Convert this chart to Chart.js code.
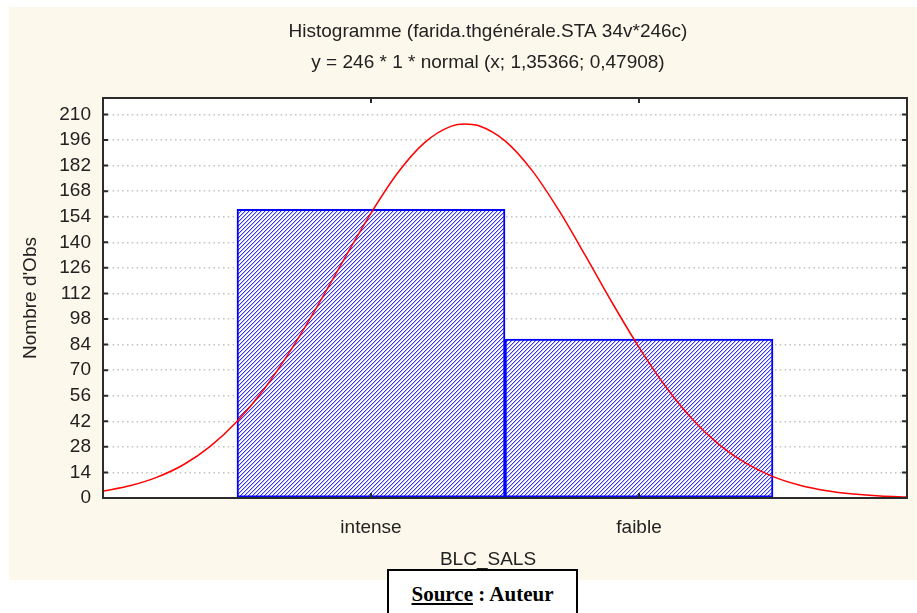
<!DOCTYPE html>
<html>
<head>
<meta charset="utf-8">
<script src="https://cdn.jsdelivr.net/npm/chart.js@4.4.1/dist/chart.umd.min.js"></script>
<style>
body{margin:0;background:#fff;}
#wrap{position:relative;width:917px;height:613px;overflow:hidden;}
#source{position:absolute;left:387px;top:569px;width:191px;height:70px;border:2px solid #000;background:#fff;
  font:bold 21px "Liberation Serif","Times New Roman",serif;line-height:24px;text-align:center;padding-top:11px;box-sizing:border-box;color:#000}
</style>
</head>
<body>
<div id="wrap">
  <canvas id="myChart" width="917" height="613"></canvas>
  <div id="source"><u>Source</u> : Auteur</div>
</div>
<script>
// histogramme BLC_SALS
const categories = ['intense', 'faible']
const counts = [158, 87]   // nombre d'obs par classe
const yStep = 14
const yMax = 219
// courbe normale (x = rang de la classe)
const curveX = [0, 0.1, 0.2, 0.3, 0.4, 0.5, 0.6, 0.7, 0.8, 0.9, 1.0, 1.1, 1.2, 1.3, 1.35, 1.4, 1.5, 1.6, 1.7, 1.8, 1.9, 2.0, 2.1, 2.2, 2.3, 2.4, 2.5, 2.6, 2.7, 2.8, 2.9, 3.0]
const curveY = [3.8, 6.7, 11.3, 18.2, 28.3, 41.9, 59.4, 80.8, 105.1, 130.8, 156.0, 178.1, 194.6, 203.6, 204.8, 203.9, 195.5, 179.5, 157.7, 132.7, 106.9, 82.5, 60.9, 43.0, 29.1, 18.9, 11.7, 7.0, 4.0, 2.2, 1.1, 0.6]

const txt = '#222'
Chart.defaults.font.family = '"Liberation Sans", Arial, sans-serif'
Chart.defaults.font.size = 19
Chart.defaults.color = txt

function hatch(){
    const c = document.createElement('canvas')
    c.width = 4; c.height = 4
    const g = c.getContext('2d')
    g.fillStyle = '#fff'
    g.fillRect(0, 0, 4, 4)
    for(let x = 0; x < 4; x++){
        for(let y = 0; y < 4; y++){
            const k = (x + y) % 4
            if(k === 3){ g.fillStyle = '#3535ff'; g.fillRect(x, y, 1, 1) }
            else if(k === 0){ g.fillStyle = '#bdbdff'; g.fillRect(x, y, 1, 1) }
        }
    }
    return g.createPattern(c, 'repeat')
}

// fond crème + cadre avec petites graduations vers l'intérieur
const frame = {
    id: 'frame',
    beforeDraw(chart){
        const {ctx, chartArea: a} = chart
        ctx.save()
        ctx.fillStyle = '#fdf8ec'
        ctx.fillRect(9, 7, 908, 573)
        ctx.fillStyle = '#fff'
        ctx.fillRect(a.left, a.top, a.right - a.left, a.bottom - a.top)
        ctx.restore()
    },
    afterDraw(chart){
        const {ctx, chartArea: a, scales} = chart
        ctx.save()
        ctx.strokeStyle = '#2b2b2b'
        ctx.lineWidth = 2
        ctx.strokeRect(a.left, a.top, a.right - a.left, a.bottom - a.top)
        ctx.beginPath()
        scales.y.ticks.forEach(t => {
            const py = scales.y.getPixelForValue(t.value)
            ctx.moveTo(a.left, py); ctx.lineTo(a.left + 5, py)
            ctx.moveTo(a.right, py); ctx.lineTo(a.right - 5, py)
        })
        scales.x.ticks.forEach(t => {
            const px = scales.x.getPixelForValue(t.value)
            ctx.moveTo(px, a.top); ctx.lineTo(px, a.top + 5)
            ctx.moveTo(px, a.bottom); ctx.lineTo(px, a.bottom - 5)
        })
        ctx.stroke()
        ctx.restore()
    }
}

const ctx = document.getElementById('myChart')

new Chart(ctx, {
    type: 'line',
    data: {
        datasets: [{
            type: 'line',
            label: 'normal',
            data: curveX.map((x, i) => ({x, y: curveY[i]})),
            borderColor: '#ff0000',
            borderWidth: 1.5,
            pointRadius: 0,
            cubicInterpolationMode: 'monotone',
            order: 0
        }, {
            type: 'bar',
            label: 'BLC_SALS',
            data: categories.map((c, i) => ({x: i + 1, y: counts[i]})),
            backgroundColor: hatch(),
            borderColor: '#0000ff',
            borderWidth: 2,
            borderSkipped: false,
            categoryPercentage: 1,
            barPercentage: 1,
            order: 1
        }]
    },
    options: {
        responsive: false,
        animation: false,
        events: [],
        layout: {
            padding: {left: 0, right: -59, top: 0, bottom: 41.6}
        },
        scales: {
            x: {
                type: 'linear',
                min: 0,
                max: 3,
                offset: false,
                afterBuildTicks: s => { s.ticks = categories.map((c, i) => ({value: i + 1})) },
                afterFit: s => { s.height = 40 },
                grid: {display: false},
                border: {display: false},
                ticks: {
                    padding: 10,
                    autoSkip: false,
                    maxRotation: 0,
                    callback: v => categories[v - 1]
                }
            },
            y: {
                min: 0,
                max: yMax,
                afterFit: s => { s.width = 103 },
                grid: {color: '#c2c2c2', lineWidth: 1.5, drawTicks: false},
                border: {display: false, dash: [1.5, 3.3]},
                ticks: {
                    stepSize: yStep,
                    includeBounds: false,
                    autoSkip: false,
                    padding: 12
                },
                title: {
                    display: true,
                    text: "Nombre d'Obs",
                    font: {size: 19},
                    padding: {top: 19.6, bottom: 0}
                }
            },
            y2: {
                position: 'right',
                afterFit: s => { s.width = 69 },
                grid: {display: false},
                border: {display: false},
                ticks: {display: false}
            }
        },
        plugins: {
            legend: {display: false},
            tooltip: {enabled: false},
            title: {
                display: true,
                text: ['Histogramme (farida.thgénérale.STA 34v*246c)', 'y = 246 * 1 * normal (x; 1,35366; 0,47908)'],
                font: {size: 19, weight: 'normal', lineHeight: 31 / 19},
                color: txt,
                padding: {top: 16.5, bottom: 19.5}
            },
            subtitle: {
                display: true,
                position: 'bottom',
                text: 'BLC_SALS',
                font: {size: 19},
                color: txt,
                padding: {top: 10.6, bottom: 0}
            }
        }
    },
    plugins: [frame]
})
</script>
</body>
</html>
